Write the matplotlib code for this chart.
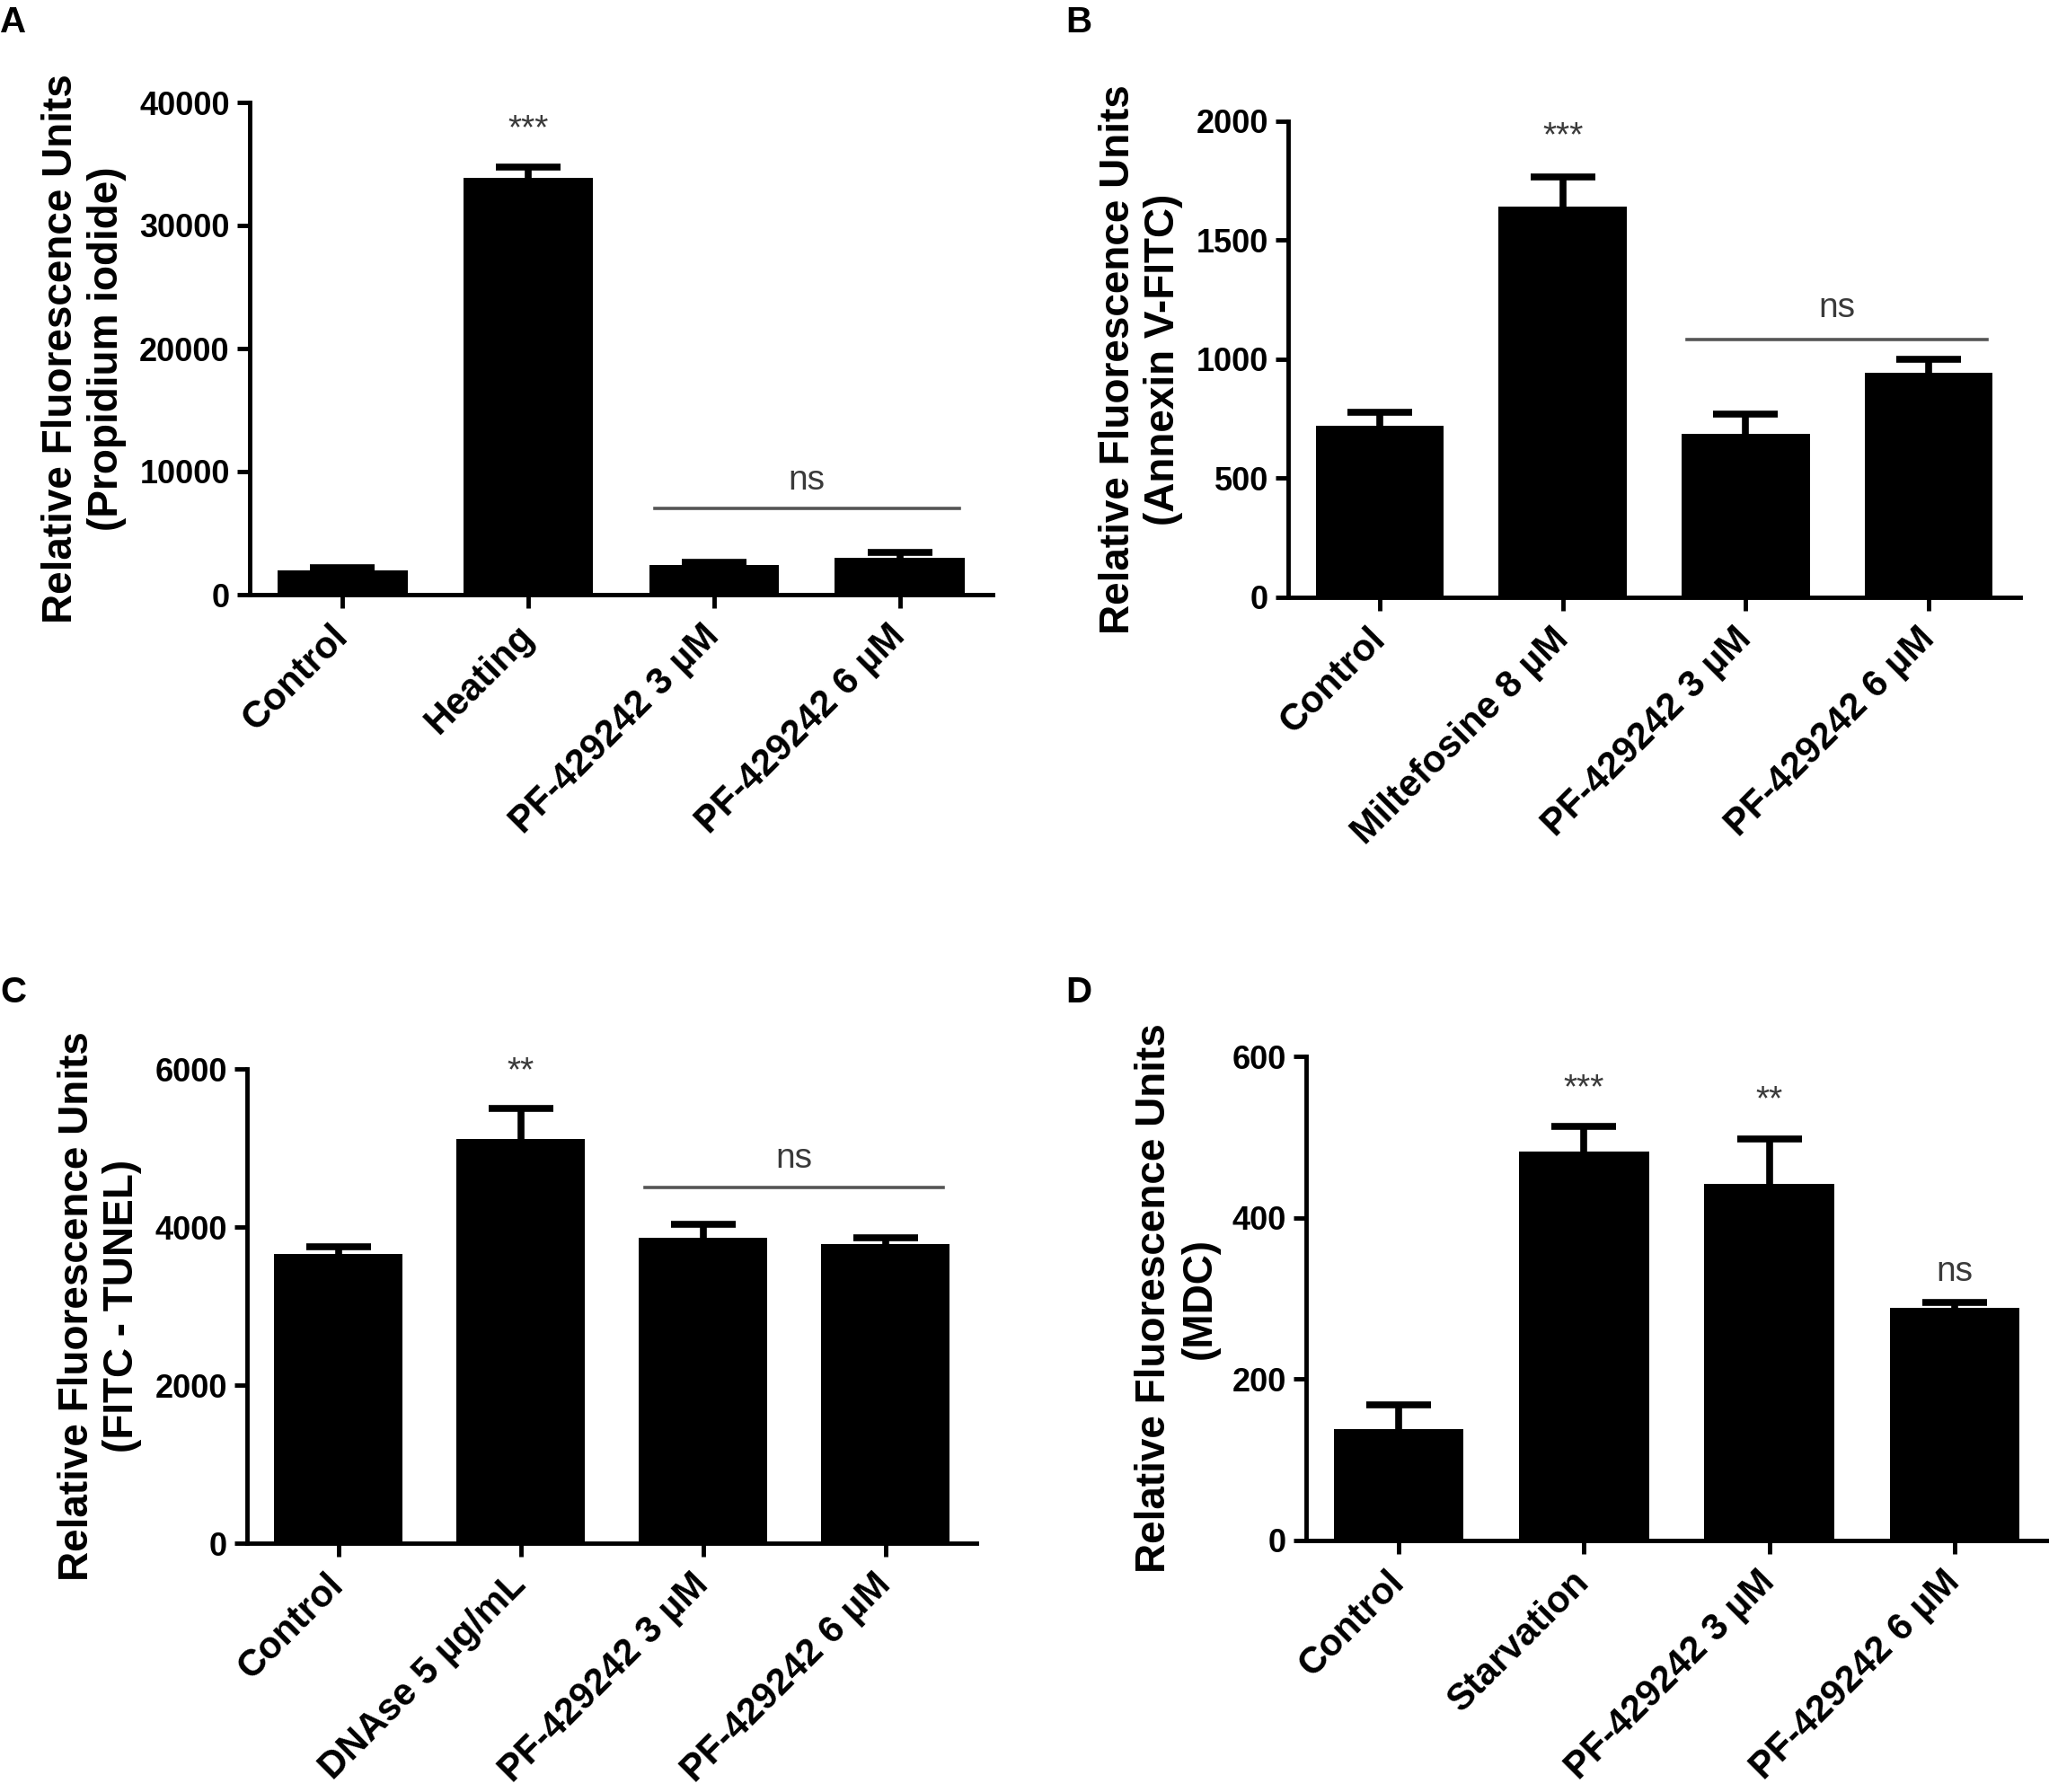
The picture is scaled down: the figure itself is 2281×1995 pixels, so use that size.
import matplotlib
matplotlib.use('Agg')
import matplotlib.pyplot as plt
import numpy as np

plt.rcParams['font.family'] = ['Liberation Sans', 'DejaVu Sans']

W, H = 2281, 1995

# panel A - propidium iodide
labels_a = ['Control', 'Heating', 'PF-429242 3 µM', 'PF-429242 6 µM']
means_a = [1950, 33850, 2420, 3020]
errs_a = [250, 900, 230, 400]

# panel B - annexin V
labels_b = ['Control', 'Miltefosine 8 µM', 'PF-429242 3 µM', 'PF-429242 6 µM']
means_b = [721, 1643, 686, 944]
errs_b = [55, 122, 82, 56]

# panel C - TUNEL
labels_c = ['Control', 'DNAse 5 µg/mL', 'PF-429242 3 µM', 'PF-429242 6 µM']
means_c = [3655, 5115, 3862, 3780]
errs_c = [90, 385, 175, 85]

# panel D - MDC
labels_d = ['Control', 'Starvation', 'PF-429242 3 µM', 'PF-429242 6 µM']
means_d = [138, 482, 442, 288]
errs_d = [30, 31, 56, 7]

fig = plt.figure(figsize=(W / 100, H / 100), dpi=100)


def make_ax(left, right, top, bottom):
    return fig.add_axes([left / W, 1 - bottom / H, (right - left) / W, (bottom - top) / H])


def draw_panel(ax, labels, means, errs, ymax, ystep, ylab):
    x = np.arange(len(labels))
    ax.bar(x, means, width=0.70, color='black', zorder=2)
    eb = ax.errorbar(x, means, yerr=[np.zeros(len(errs)), errs], fmt='none',
                     ecolor='black', elinewidth=5.5, capsize=26, capthick=5.5, zorder=3)
    eb[1][0].set_visible(False)  # no lower cap
    ax.set_xlim(-0.5, 3.5)
    ax.set_ylim(0, ymax)
    ax.set_yticks(np.arange(0, ymax + 1, ystep))
    ax.set_xticks(x)
    ax.set_xticklabels(labels, rotation=45, ha='right', va='center',
                       rotation_mode='anchor', fontsize=30, fontweight='bold')
    for t in ax.get_yticklabels():
        t.set_fontsize(26)
        t.set_fontweight('bold')
    for s in ['top', 'right']:
        ax.spines[s].set_visible(False)
    for s in ['left', 'bottom']:
        ax.spines[s].set_linewidth(3.5)
    ax.tick_params(axis='y', length=10, width=3.5, pad=6)
    ax.tick_params(axis='x', length=11, width=3.5, pad=18)
    ax.set_ylabel(ylab, fontsize=33, fontweight='bold', labelpad=10,
                  multialignment='center', linespacing=1.2)


def sig(ax, x, y, txt):
    ax.text(x, y, txt, ha='center', va='center', fontsize=28, color='#3a3a3a')


def ns_line(ax, y_line, y_txt):
    ax.plot([1.68, 3.32], [y_line, y_line], color='#555555', lw=2.6, zorder=3)
    sig(ax, 2.5, y_txt, 'ns')


# A
ax_a = make_ax(278, 1105, 114, 662)
draw_panel(ax_a, labels_a, means_a, errs_a, 40000, 10000,
           'Relative Fluorescence Units\n(Propidium iodide)')
sig(ax_a, 1, 37800, '***')
ns_line(ax_a, 7000, 9300)

# B
ax_b = make_ax(1434, 2249, 135, 665)
draw_panel(ax_b, labels_b, means_b, errs_b, 2000, 500,
           'Relative Fluorescence Units\n(Annexin V-FITC)')
sig(ax_b, 1, 1935, '***')
ns_line(ax_b, 1083, 1215)

# C
ax_c = make_ax(275, 1087, 1190, 1718)
draw_panel(ax_c, labels_c, means_c, errs_c, 6000, 2000,
           'Relative Fluorescence Units\n(FITC - TUNEL)')
sig(ax_c, 1, 5960, '**')
ns_line(ax_c, 4500, 4860)

# D
ax_d = make_ax(1454, 2279, 1176, 1715)
draw_panel(ax_d, labels_d, means_d, errs_d, 600, 200,
           'Relative Fluorescence Units\n(MDC)')
sig(ax_d, 1, 560, '***')
sig(ax_d, 2, 545, '**')
sig(ax_d, 3, 333, 'ns')

# panel letters
for letter, px, py in [('A', 0, 6), ('B', 1186, 6), ('C', 0, 1086), ('D', 1186, 1086)]:
    fig.text(px / W, 1 - py / H, letter, fontsize=29, fontweight='bold', va='top', ha='left')

fig.savefig('out.png', dpi=100, facecolor='white')
